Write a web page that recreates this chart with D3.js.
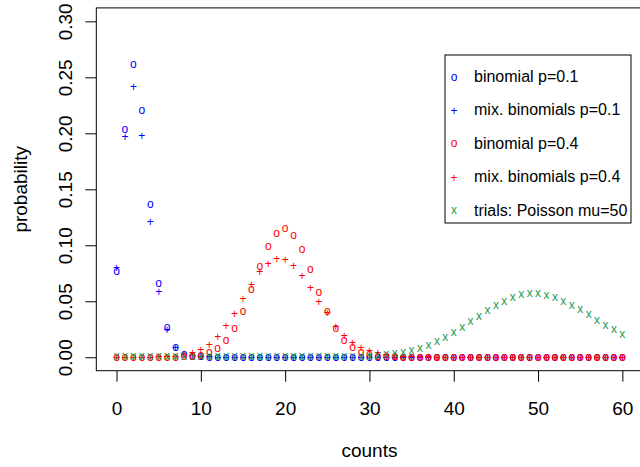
<!DOCTYPE html>
<html>
<head>
<meta charset="utf-8">
<script src="https://cdn.jsdelivr.net/npm/d3@7"></script>
<style>
  html, body { margin: 0; padding: 0; background: #fff; }
  svg { display: block; }
  text { font-family: "Liberation Sans", Arial, Helvetica, sans-serif; }
</style>
</head>
<body>
<svg id="chart" width="640" height="467"></svg>
<script>
// ---- data ----
const counts = d3.range(0, 61);
const binomP01 = [0.0764, 0.203, 0.261, 0.220, 0.136, 0.0654, 0.026, 0.0086, 0.0022, 0.0005,
  0.0001, 0, 0, 0, 0, 0, 0, 0, 0, 0,
  0, 0, 0, 0, 0, 0, 0, 0, 0, 0,
  0, 0, 0, 0, 0, 0, 0, 0, 0, 0,
  0, 0, 0, 0, 0, 0, 0, 0, 0, 0,
  0, 0, 0, 0, 0, 0, 0, 0, 0, 0, 0];
const mixP01 = [0.080, 0.197, 0.242, 0.198, 0.121, 0.059, 0.025, 0.009, 0.0035, 0.0012,
  0.0004, 0.0001, 0, 0, 0, 0, 0, 0, 0, 0,
  0, 0, 0, 0, 0, 0, 0, 0, 0, 0,
  0, 0, 0, 0, 0, 0, 0, 0, 0, 0,
  0, 0, 0, 0, 0, 0, 0, 0, 0, 0,
  0, 0, 0, 0, 0, 0, 0, 0, 0, 0, 0];
const binomP04 = [0, 0, 0, 0, 0, 0, 0, 0, 0.0001, 0.0005,
  0.0014, 0.0036, 0.0075, 0.0147, 0.0258, 0.041, 0.0606, 0.0809, 0.0988, 0.1107,
  0.1146, 0.1088, 0.0958, 0.078, 0.058, 0.0407, 0.0259, 0.015, 0.0082, 0.0042,
  0.0018, 0.0008, 0.0003, 0.0001, 0, 0, 0, 0, 0, 0,
  0, 0, 0, 0, 0, 0, 0, 0, 0, 0,
  0, 0, 0, 0, 0, 0, 0, 0, 0, 0, 0];
const mixP04 = [0, 0, 0, 0, 0, 0.0001, 0.0003, 0.0008, 0.002, 0.0038,
  0.0068, 0.0116, 0.0186, 0.028, 0.039, 0.052, 0.065, 0.0764, 0.0839, 0.088,
  0.0872, 0.0815, 0.0729, 0.0619, 0.0497, 0.040, 0.027, 0.0193, 0.0134, 0.0089,
  0.0056, 0.004, 0.0025, 0.0014, 0.0008, 0.0004, 0.0002, 0.0001, 0, 0,
  0, 0, 0, 0, 0, 0, 0, 0, 0, 0,
  0, 0, 0, 0, 0, 0, 0, 0, 0, 0, 0];
const poissonTrials = [0, 0, 0, 0, 0, 0, 0, 0, 0, 0,
  0, 0, 0, 0, 0, 0, 0, 0, 0, 0,
  0, 0, 0, 0, 0, 0, 0.0001, 0.0002, 0.0003, 0.0004,
  0.0007, 0.0011, 0.0017, 0.0027, 0.0041, 0.0059, 0.0077, 0.0104, 0.0134, 0.017,
  0.0214, 0.0259, 0.0312, 0.0363, 0.0411, 0.0458, 0.0497, 0.0527, 0.0554, 0.0563,
  0.0563, 0.055, 0.0529, 0.0497, 0.0461, 0.0419, 0.0375, 0.0327, 0.0282, 0.0241, 0.0199];

const xTicks = [0, 10, 20, 30, 40, 50, 60];
const yTicks = [0, 0.05, 0.10, 0.15, 0.20, 0.25, 0.30];

const seriesNames = ["binomial p=0.1", "mix. binomials p=0.1", "binomial p=0.4",
                     "mix. binomials p=0.4", "trials: Poisson mu=50"];
const seriesValues = [binomP01, mixP01, binomP04, mixP04, poissonTrials];
const seriesSymbols = ["o", "+", "o", "+", "x"];
const seriesColors = ["#0000FF", "#0000FF", "#FF0000", "#FF0000", "#1E9A50"];

// ---- layout ----
const svg = d3.select("#chart");
const plot = { left: 96.3, top: 7.9, right: 642.6, bottom: 370.7 };
const x = d3.scaleLinear().domain([-2.4, 62.4]).range([plot.left, plot.right]);
const y = d3.scaleLinear().domain([-0.012, 0.312]).range([plot.bottom, plot.top]);

const axisFont = 19;
const symFont = 12;
// vertical offset (in em) from glyph centre to baseline
const symOffset = { "o": 0.27, "x": 0.26, "+": 0.36 };

// points
seriesValues.forEach((vals, i) => {
  const sym = seriesSymbols[i];
  svg.append("g")
    .selectAll("text")
    .data(counts)
    .join("text")
    .attr("x", d => x(d))
    .attr("y", d => y(vals[d]) + symOffset[sym] * symFont)
    .attr("text-anchor", "middle")
    .attr("font-size", symFont)
    .attr("fill", seriesColors[i])
    .text(sym);
});

// box
svg.append("rect")
  .attr("x", plot.left).attr("y", plot.top)
  .attr("width", plot.right - plot.left).attr("height", plot.bottom - plot.top)
  .attr("fill", "none").attr("stroke", "#000").attr("stroke-width", 1);

// x axis
const gx = svg.append("g")
  .attr("transform", `translate(0,${plot.bottom})`)
  .call(d3.axisBottom(x).tickValues(xTicks).tickSize(11).tickFormat(d3.format("d")));
gx.select(".domain").remove();
gx.selectAll("line").attr("stroke", "#000");
gx.selectAll("text")
  .attr("y", 415 - plot.bottom).attr("dy", null)
  .attr("font-size", axisFont).attr("fill", "#000")
  .style("font-family", '"Liberation Sans", Arial, sans-serif');

// y axis
const gy = svg.append("g")
  .attr("transform", `translate(${plot.left},0)`)
  .call(d3.axisLeft(y).tickValues(yTicks).tickSize(11).tickFormat(d3.format(".2f")));
gy.select(".domain").remove();
gy.selectAll("line").attr("stroke", "#000");
gy.selectAll("text")
  .attr("x", 0).attr("y", 0).attr("dy", null)
  .attr("text-anchor", "middle")
  .attr("transform", `translate(${71.5 - plot.left},0) rotate(-90)`)
  .attr("font-size", axisFont).attr("fill", "#000")
  .style("font-family", '"Liberation Sans", Arial, sans-serif');

// axis titles
svg.append("text")
  .attr("x", (plot.left + plot.right) / 2).attr("y", 457)
  .attr("text-anchor", "middle").attr("font-size", axisFont)
  .text("counts");
svg.append("text")
  .attr("transform", `translate(27,${(plot.top + plot.bottom) / 2}) rotate(-90)`)
  .attr("text-anchor", "middle").attr("font-size", axisFont)
  .text("probability");

// legend
const legend = svg.append("g");
legend.append("rect")
  .attr("x", 445).attr("y", 55).attr("width", 186).attr("height", 168)
  .attr("fill", "#fff").attr("stroke", "#000").attr("stroke-width", 1);
const rowY = d3.scaleLinear().domain([0, 4]).range([77.3, 210.7]);
seriesNames.forEach((name, i) => {
  const sym = seriesSymbols[i];
  legend.append("text")
    .attr("x", 454).attr("y", rowY(i) + symOffset[sym] * symFont)
    .attr("text-anchor", "middle").attr("font-size", symFont)
    .attr("fill", seriesColors[i]).text(sym);
  legend.append("text")
    .attr("x", 474).attr("y", rowY(i) + 0.3 * 16)
    .attr("font-size", 16).attr("fill", "#000").text(name);
});
</script>
</body>
</html>
